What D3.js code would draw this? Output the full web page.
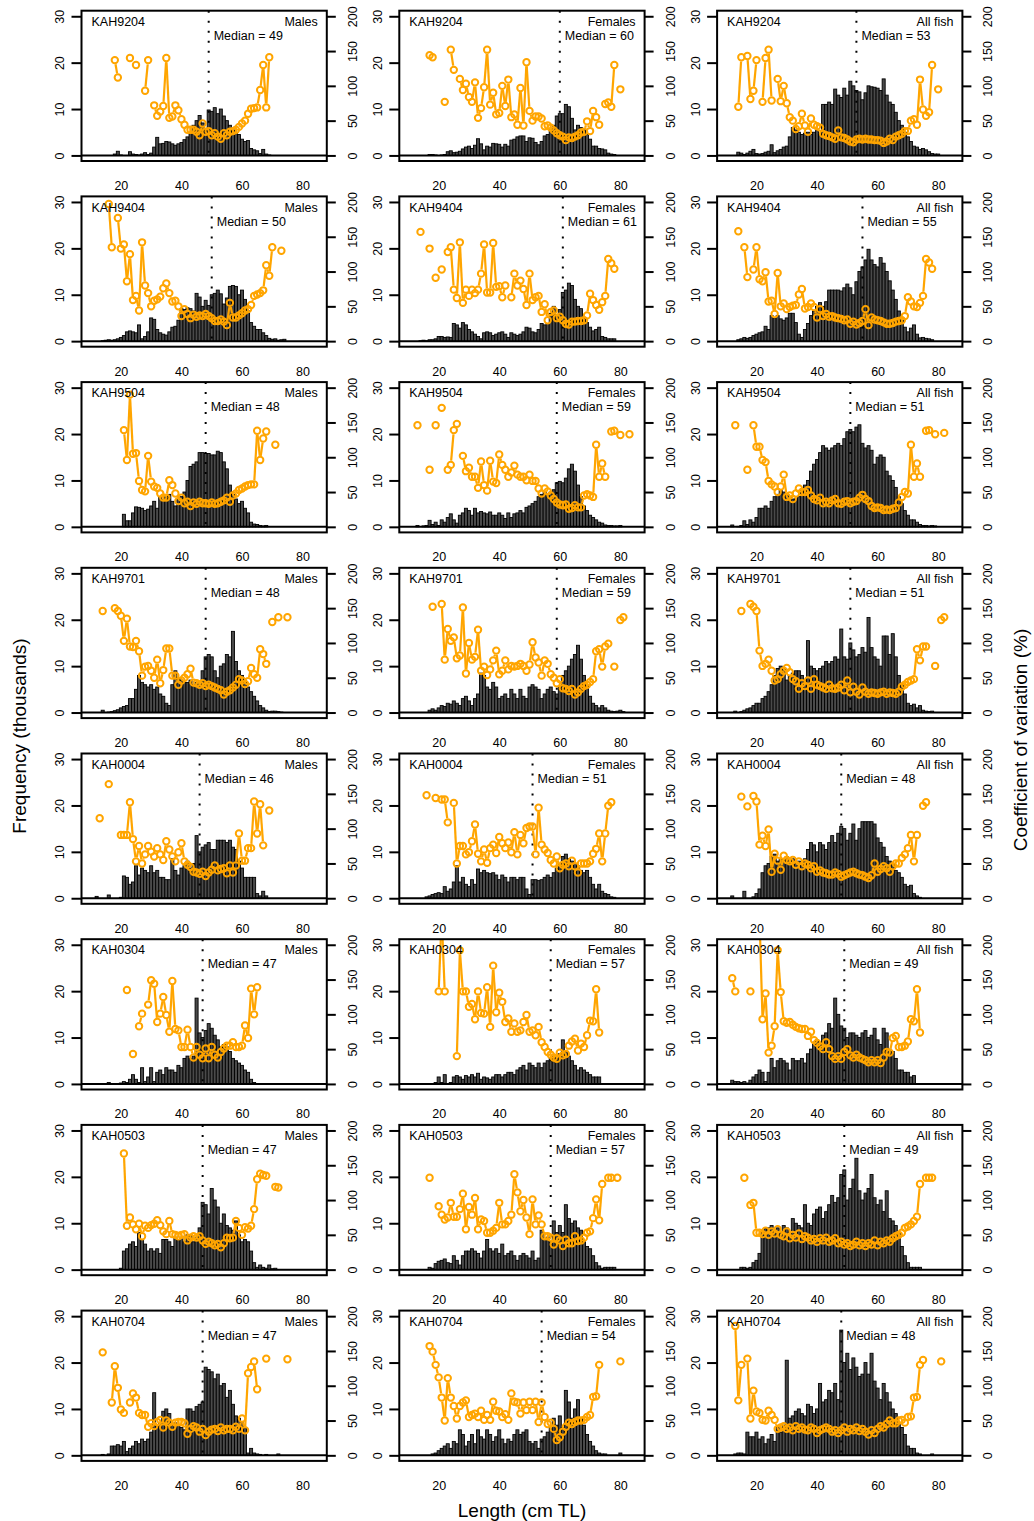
<!DOCTYPE html>
<html>
<head>
<meta charset="utf-8">
<script src="https://cdn.jsdelivr.net/npm/d3@7"></script>
<style>
body { margin: 0; background: #fff; }
text { font-family: "Liberation Sans", Arial, Helvetica, sans-serif; }
</style>
</head>
<body>
<div id="chart"></div>
<script>
var surveys = ["KAH9204", "KAH9404", "KAH9504", "KAH9701", "KAH0004", "KAH0304", "KAH0503", "KAH0704"];
var groups = ["Males", "Females", "All fish"];
var medians = [[49,60,53],[50,61,55],[48,59,51],[48,59,51],[46,51,48],[47,57,49],[47,57,49],[47,54,48]];

// first length class (cm) of each frequency / CV series
var freqFrom = [[18,17,14],[14,14,14],[21,13,12],[14,17,13],[12,16,12],[16,17,12],[20,17,15],[14,18,13]];
var cvFrom   = [[18,17,14],[16,14,14],[21,13,13],[14,18,15],[13,16,15],[22,20,12],[21,17,16],[14,17,13]];

// frequency (thousands) per 1 cm class
var freqKAH9204M = [0.3,0.9,0.1,0,0,0.8,0.3,0.2,0.1,0.3,0.6,0.2,0.5,1.8,3.9,2.5,2.6,3.0,2.9,2.5,2.2,2.5,2.8,3.4,4.0,5.0,6.5,7.5,8.6,7.0,5.5,9.8,9.5,10.3,9.0,10.0,8.5,7.5,6.5,5.5,5.0,4.5,3.5,3.0,3.2,1.5,1.2,1.0,0.4,1.3,0.3,0.1];
var freqKAH9204F = [0.2,0.2,0.1,0,0.1,0.2,0.8,1.0,0.6,0.7,0.9,1.4,1.8,2.0,1.5,2.2,3.6,2.5,1.2,2.0,1.8,2.6,2.5,2.4,1.8,2.4,2.0,3.3,3.5,4.0,4.2,4.2,3.0,3.8,3.7,2.8,2.3,3.0,4.2,4.5,5.5,6.5,8.5,9.0,9.0,11.0,10.5,8.0,5.5,6.5,6.0,5.5,4.5,3.5,2.0,2.0,1.5,1.4,1.2,0.5,0.3,0.2];
var freqKAH9204A = [0.7,0.5,0.2,0.5,0.9,1.3,0.4,0.3,0.4,0.7,0.9,2.3,0.6,1.0,1.3,1.8,2.0,4.0,6.0,5.5,5.0,4.5,4.8,5.0,4.5,5.0,5.5,4.5,11.0,11.0,11.5,11.0,14.3,13.0,12.5,14.5,13.0,16.0,15.0,14.0,13.7,12.0,13.5,15.0,14.8,14.7,14.5,14.0,16.5,13.0,11.5,11.0,9.3,7.5,6.5,5.0,4.0,3.0,2.0,1.8,1.3,1.5,1.2,0.8,0.4,0.3,0.3];
var freqKAH9404M = [0.1,0.2,0.3,0.2,0.3,0.5,0.8,1.2,2.0,2.2,2.0,1.8,3.5,0.5,1.0,2.0,5.0,4.7,2.5,1.8,1.5,1.3,2.0,3.0,3.2,4.5,7.0,6.8,7.2,7.0,6.5,10.3,9.5,7.5,8.8,7.7,10.0,10.3,11.0,10.2,8.0,9.3,11.8,12.0,11.8,10.0,11.0,9.0,6.5,4.0,3.2,2.5,2.5,1.8,1.2,0.6,0.4,0.5,0.2,0.3,0.4];
var freqKAH9404F = [0.1,0.2,0.1,0.3,0.3,0.5,1.0,1.0,0.8,0.9,0.8,3.8,3.5,2.8,4.0,3.5,2.5,2.0,1.5,1.0,0.5,1.8,2.0,1.8,1.2,1.5,1.8,2.0,1.5,0.8,1.8,1.5,1.2,1.5,2.0,3.0,2.8,2.0,1.8,2.5,3.8,3.5,3.8,6.0,7.5,5.5,6.8,10.5,11.0,12.5,12.0,9.0,7.5,7.0,5.0,4.0,3.0,2.2,2.5,3.0,1.0,0.8,0.5,0.5,0.5];
var freqKAH9404A = [0.3,0.5,0.8,0.6,0.8,1.2,1.5,1.8,2.0,3.2,2.5,5.5,5.0,5.5,4.8,4.5,5.0,6.0,6.0,4.0,1.5,0.8,2.5,3.8,5.5,6.5,7.5,8.3,7.5,8.5,11.0,11.0,11.0,11.0,10.8,11.5,12.3,11.5,10.0,12.8,15.0,16.0,17.5,19.8,17.5,16.5,16.0,18.0,16.8,15.0,13.0,11.0,9.0,6.5,4.5,3.0,2.0,2.8,3.5,1.5,0.7,0.8,0.6,0.5,0.3];
var freqKAH9504M = [2.7,1.3,1.3,3.0,4.3,4.2,4.0,3.5,3.8,4.5,5.5,4.0,6.5,5.8,6.5,7.0,5.5,4.5,6.0,6.5,7.5,10.0,13.0,13.5,14.0,16.0,16.0,15.8,15.8,15.5,15.5,16.3,16.0,14.0,12.5,9.0,7.0,6.0,5.0,5.5,4.0,3.0,1.0,0.6,0.5,0.3,0.2,0.3];
var freqKAH9504F = [0.3,0,0.2,0.3,1.4,0.5,1.0,0.3,1.5,1.0,2.0,2.8,1.5,0.8,2.5,3.0,4.0,3.5,2.5,4.0,3.0,3.3,3.0,2.8,3.2,2.5,2.5,3.0,2.5,1.8,3.0,2.0,2.8,3.0,3.5,3.0,4.2,4.5,5.0,5.5,6.5,7.0,7.5,7.0,7.5,8.0,9.5,9.8,9.5,10.5,12.5,13.5,12.0,9.0,6.5,4.5,3.5,2.5,2.0,1.5,1.0,0.8,0.4,0.3,0.3,0.2,0.2,0.3];
var freqKAH9504A = [0.4,0,0.1,0.3,1.3,0.5,1.5,1.0,2.0,4.0,4.0,4.5,4.0,5.5,6.5,7.0,8.0,7.5,7.0,6.5,6.0,6.0,6.5,8.0,9.0,10.0,12.0,13.5,14.5,16.0,17.5,17.0,16.5,17.0,17.5,18.0,17.5,19.0,20.5,21.0,20.5,21.5,22.0,18.0,17.0,17.5,16.5,13.5,15.0,15.5,15.0,12.0,11.0,10.0,8.5,6.5,5.0,3.5,2.5,1.5,1.5,1.0,0.5,0.3,0.3,0.2,0.3,0.2];
var freqKAH9701M = [0.5,0,0.1,0.2,0.4,0.6,1.0,1.3,1.5,3.0,3.0,5.0,8.0,6.5,6.0,5.5,6.0,5.0,5.5,4.0,3.5,2.0,1.5,6.0,9.0,7.5,7.0,6.5,6.5,7.0,6.0,6.5,6.0,9.0,12.0,12.5,12.0,9.0,7.5,10.0,10.5,12.5,12.0,17.5,11.0,9.0,8.0,7.0,5.5,4.5,3.5,2.5,1.5,1.0,0.5,0.2,0.3,0.3,0.2,0.1];
var freqKAH9701F = [0.5,0.8,0.5,1.0,1.5,1.3,2.0,1.8,2.5,2.0,1.5,3.0,3.5,2.5,1.5,3.0,4.0,8.5,8.0,5.5,5.0,6.5,5.5,3.0,3.5,4.0,3.0,5.0,4.0,3.0,5.0,3.5,3.0,5.5,6.0,5.5,5.0,3.0,4.0,5.0,5.5,4.5,4.0,5.5,8.0,9.0,10.0,11.5,12.5,14.5,11.5,8.0,6.0,3.5,2.0,1.5,1.0,1.5,1.0,0.5,0.3,0.2,0.3,0.5,0.2];
var freqKAH9701A = [0.3,0,0.2,0.5,0.8,1.0,1.5,2.0,2.0,3.0,3.5,4.5,6.0,8.0,9.5,10.0,9.5,7.0,8.0,8.5,9.0,9.0,8.0,7.0,15.5,10.0,9.5,9.0,9.5,10.0,11.0,10.5,11.0,12.0,11.5,18.0,12.0,11.5,15.0,13.5,12.0,12.5,14.0,13.0,20.5,14.0,12.0,11.5,10.0,16.5,16.5,12.5,17.0,12.0,8.0,6.0,4.0,2.0,1.5,1.8,1.0,1.5,0.5,0.3,0.2,0.3];
var freqKAH0004M = [0.4,0,0,0,0.7,0,0,0,0.2,4.8,4.5,3.0,3.5,7.0,5.0,6.5,6.0,5.5,7.0,5.5,6.0,4.5,4.5,4.0,4.0,8.5,6.0,5.0,6.5,7.0,8.0,6.5,7.5,13.5,10.0,11.0,11.5,12.0,10.5,10.5,12.5,12.5,12.5,12.0,12.5,11.0,10.5,8.0,6.5,4.5,4.5,4.5,4.5,1.0,0.5,1.5,0.5];
var freqKAH0004F = [0.3,0.5,0.8,1.0,1.2,1.0,2.5,1.5,2.0,3.5,7.0,3.5,4.5,3.0,2.5,4.0,3.0,6.3,5.5,6.0,5.5,5.3,5.5,5.0,4.0,5.0,4.5,3.5,4.5,4.5,4.0,4.5,4.5,2.0,0.8,4.0,4.0,3.8,4.0,4.5,5.0,4.5,5.5,6.5,7.5,9.0,9.5,8.5,8.0,7.5,7.0,6.0,5.5,6.0,4.5,3.0,2.0,3.0,1.5,1.0,0.8,0.3,0.2];
var freqKAH0004A = [0.5,0,0,0,1.5,0,0,0.3,1.0,2.0,5.5,7.0,7.5,9.0,9.5,8.0,8.5,8.5,9.0,8.0,8.5,7.5,8.0,7.5,8.5,10.5,12.0,11.5,10.0,12.0,11.5,10.5,12.0,13.5,12.0,14.0,15.5,15.0,12.5,14.0,16.0,12.5,15.0,16.5,16.5,16.5,16.5,16.0,13.0,12.0,11.0,9.0,8.0,7.5,6.0,5.5,4.5,3.0,2.5,2.8,1.0,0.5,0.2];
var freqKAH0304M = [0.3,0,0.1,0,0.2,0.5,0.3,1.0,2.0,1.0,0.3,3.5,0.5,1.5,3.5,0.5,2.5,3.0,2.0,3.5,3.0,3.0,2.5,4.0,3.5,5.5,6.0,5.5,6.0,18.5,11.0,10.0,11.5,13.0,12.0,10.5,9.5,8.0,8.5,8.0,7.0,5.5,5.0,4.5,4.0,3.0,2.5,1.0,0.3];
var freqKAH0304F = [0,0,0.3,1.5,0.3,2.0,0,0.3,1.5,1.8,1.5,1.0,1.8,1.5,2.0,1.5,2.3,1.0,1.5,1.3,1.0,1.5,2.0,2.0,1.5,2.0,2.5,2.5,2.0,3.0,3.5,4.0,3.0,4.5,4.0,3.5,4.5,3.5,4.5,5.0,5.5,6.0,5.5,6.5,9.5,7.0,6.0,5.0,4.0,3.0,3.5,3.0,2.5,2.0,1.5,1.5,1.5];
var freqKAH0304A = [0.8,0.5,0.5,0.3,0.5,0.2,0.8,1.5,2.0,3.0,2.5,0.5,2.5,5.5,3.5,5.0,5.5,5.0,4.5,3.0,5.5,5.0,5.0,5.5,4.5,6.5,7.5,9.0,9.5,8.5,10.5,11.0,13.0,12.0,18.5,15.0,12.5,12.0,10.0,11.0,11.0,10.5,10.0,11.0,11.5,10.0,10.5,12.0,9.5,8.5,12.0,11.0,7.5,7.0,5.5,3.0,3.0,2.5,2.5,1.5,1.8];
var freqKAH0503M = [0.3,4.0,4.5,5.5,6.0,5.0,8.0,6.5,5.5,4.0,4.5,4.0,4.5,3.5,6.5,6.5,6.0,5.0,7.0,6.5,7.0,6.0,7.5,7.5,6.0,7.0,9.0,14.5,14.0,12.0,17.5,15.0,13.5,10.0,12.0,9.5,9.0,8.5,10.5,7.5,6.0,6.5,6.0,4.0,1.5,0.5,1.0,0.5,0.3,1.0,0.2,0.3];
var freqKAH0503F = [0.5,0.3,1.3,1.8,2.0,2.3,1.5,1.3,3.0,2.0,1.0,3.0,4.0,4.0,4.5,4.0,3.5,2.5,4.0,6.5,4.5,4.0,4.5,3.5,5.5,3.0,3.5,4.0,3.0,2.0,3.0,3.5,3.0,2.5,4.0,2.0,2.5,8.5,6.5,7.0,6.0,10.5,8.0,9.5,8.0,14.0,11.0,10.0,10.5,9.0,8.5,6.0,5.0,4.5,3.0,1.5,0.8,0.3,0.5,0.5,0.5,0.5];
var freqKAH0503A = [0.5,0.5,0.3,0.5,1.5,2.0,3.5,8.0,9.0,9.0,9.5,8.5,9.0,8.0,9.5,9.0,8.0,11.0,10.0,9.5,9.0,14.0,10.0,9.5,12.0,13.0,13.5,11.0,12.5,14.0,16.0,14.5,15.5,20.5,21.5,15.0,17.5,19.5,24.0,17.0,15.0,16.5,17.5,20.5,15.5,14.0,15.0,12.5,17.0,11.0,10.5,9.5,8.0,5.0,3.0,1.5,0.5,0.5,0.5,0.5];
var freqKAH0704M = [0.2,0,0.3,2.0,2.0,2.3,2.0,3.0,0.8,1.5,2.0,3.0,2.5,3.5,3.0,3.5,5.0,13.5,6.5,7.0,9.5,10.0,9.0,6.5,7.0,6.5,6.0,5.5,10.0,10.0,9.5,10.5,11.0,11.5,19.0,18.5,18.0,16.5,17.5,15.0,15.5,12.5,14.0,11.0,8.5,8.0,7.0,6.0,0.5,1.5,0.5,0.3,0.2,0,0.2,0,0,0,0.3];
var freqKAH0704F = [0.3,0.5,1.0,1.5,2.0,2.5,1.5,3.0,2.5,5.5,4.5,2.0,3.0,4.5,2.5,5.5,4.0,3.5,5.5,4.5,3.0,4.0,5.5,3.5,2.5,3.5,3.0,4.5,5.5,4.5,5.0,5.5,3.0,2.5,3.0,1.5,3.5,4.0,5.0,6.0,8.0,6.5,8.5,6.0,14.0,11.5,8.0,10.0,12.0,8.0,6.5,4.5,3.0,2.0,1.0,0.5,0.3,0.3,0,0,0,0,0.5];
var freqKAH0704A = [0.3,0.5,0.5,0.3,5.0,4.0,4.0,5.0,3.5,4.0,2.5,3.5,4.5,3.0,6.0,5.0,6.5,20.5,8.0,8.5,9.5,10.0,9.0,8.5,11.0,10.5,9.0,10.0,15.5,11.5,12.0,14.0,13.5,15.5,12.0,27.0,20.0,22.0,18.5,21.0,19.0,17.0,17.5,20.0,17.5,22.0,16.0,14.5,12.0,15.5,13.5,11.5,10.0,9.0,7.0,6.0,4.5,2.0,1.5,1.5,0.5,0.3,0,0,0,0.3];

// coefficient of variation (%) per 1 cm class, null = not estimated
var cvKAH9204M = [137,112,null,null,null,140,null,130,null,null,93,137,null,72,57,63,71,140,54,56,72,65,52,44,37,37,37,34,29,46,34,35,29,32,27,24,32,29,34,35,37,41,46,50,60,67,68,69,94,130,69,141];
var cvKAH9204F = [144,141,null,null,null,77,null,152,123,null,110,94,103,84,77,105,54,68,98,152,73,90,59,61,100,71,109,55,59,44,97,43,134,64,50,56,56,53,42,43,40,36,32,29,27,22,26,25,27,29,33,34,49,35,64,55,44,null,74,76,70,130,null,95];
var cvKAH9204A = [70,141,null,143,81,93,137,null,77,140,152,79,null,110,78,100,75,55,50,38,42,60,43,34,53,44,42,40,31,29,28,26,24,36,26,25,23,20,19,23,24,23,24,23,23,22,22,21,18,20,24,22,27,29,31,35,35,50,52,44,109,66,57,62,130,null,95];
var cvKAH9404M = [197,135,null,177,133,139,86,125,59,65,44,142,80,69,50,58,60,64,76,83,69,57,58,50,36,46,39,33,38,35,37,36,39,36,33,29,29,31,28,23,55,34,34,37,40,44,46,52,65,67,69,73,109,94,135,null,null,130];
var cvKAH9404F = [157,null,null,133,null,91,null,103,null,128,135,74,62,142,55,74,65,74,69,74,97,139,70,70,141,78,79,63,80,null,63,97,80,87,75,52,97,59,63,65,42,53,30,42,44,33,35,30,25,24,28,28,29,29,30,37,68,59,52,45,56,65,118,112,104];
var cvKAH9404A = [158,null,135,92,null,103,135,89,86,99,57,58,39,98,50,54,46,49,51,52,67,75,47,49,54,49,34,46,36,39,35,36,34,33,32,30,31,25,28,24,26,29,46,23,34,31,30,29,27,25,25,26,28,29,30,36,63,57,50,49,55,65,118,113,104];
var cvKAH9504M = [139,96,190,105,106,66,53,51,102,65,58,56,48,42,42,67,60,48,37,42,34,36,30,35,33,36,34,34,33,35,33,34,36,38,42,36,45,48,53,55,58,60,61,61,138,96,127,137,null,null,118];
var cvKAH9504F = [146,null,null,null,82,null,146,null,171,null,82,89,139,148,null,102,80,85,72,72,56,94,60,52,95,65,63,104,89,82,72,78,88,75,72,72,67,75,66,66,55,48,55,51,45,40,35,32,31,32,26,27,31,28,28,45,47,45,43,118,72,91,72,null,137,138,null,132,null,null,133];
var cvKAH9504A = [146,null,null,null,82,null,146,115,115,96,93,66,61,58,50,58,75,43,45,40,48,55,50,50,53,45,40,38,42,34,36,34,38,40,34,33,36,37,34,36,37,42,46,40,37,30,27,28,27,24,25,24,26,27,35,43,50,48,118,72,91,72,null,138,139,null,133,null,null,135];
var cvKAH9701M = [146,null,null,null,150,146,139,103,135,95,94,103,88,53,66,67,60,50,76,42,61,92,92,53,53,40,46,50,55,63,43,42,40,42,38,40,38,36,34,32,26,30,32,36,40,48,46,41,45,64,55,50,91,84,70,null,130,null,137,null,null,137];
var cvKAH9701F = [152,null,null,156,76,120,103,108,78,82,151,56,100,76,80,119,60,66,54,62,75,89,55,60,75,62,67,66,67,70,67,60,69,101,79,72,53,75,70,55,50,42,48,35,34,31,34,26,29,34,38,40,44,48,88,91,66,95,99,null,66,null,133,137];
var cvKAH9701A = [146,null,null,156,152,146,89,67,70,76,60,46,48,55,60,64,58,48,45,34,42,38,46,34,48,40,38,36,34,40,35,34,36,40,32,46,29,37,30,26,36,30,27,29,28,27,29,30,27,29,28,27,30,37,40,44,46,48,91,75,95,95,null,null,67,null,133,137];
var cvKAH0004M = [115,null,null,164,null,null,null,91,91,91,138,85,53,75,50,63,75,67,60,72,63,55,82,70,60,53,66,79,53,48,45,38,37,35,38,32,37,41,47,40,42,43,36,47,37,47,93,54,54,72,72,139,93,135,76,null,126];
var cvKAH0004F = [148,null,null,144,null,142,142,109,null,137,50,75,75,63,66,82,106,64,53,70,51,72,77,65,88,79,72,80,66,95,63,91,79,101,103,103,63,130,77,70,65,55,50,60,43,48,50,46,54,46,37,50,50,50,53,64,71,93,53,93,133,138];
var cvKAH0004A = [146,null,132,null,147,139,77,90,75,99,38,64,54,41,61,55,53,55,48,53,46,50,48,43,46,38,40,37,36,34,34,37,35,31,33,35,37,38,36,34,33,31,29,33,50,38,42,46,43,38,46,50,50,58,63,72,91,53,91,null,133,138];
var cvKAH0304M = [135,null,43,null,83,101,null,114,149,144,89,101,125,99,75,148,79,77,53,53,78,53,38,53,42,37,51,37,53,42,38,46,51,55,55,60,53,53,55,84,66,137,100,139];
var cvKAH0304F = [133,240,133,null,null,null,40,192,133,133,111,115,93,133,102,101,139,82,170,103,131,118,89,94,75,87,75,77,89,99,75,77,70,82,60,53,46,42,38,36,45,41,43,55,61,65,48,58,53,70,91,90,136,74];
var cvKAH0304A = [152,133,null,null,null,null,133,null,null,240,93,130,45,55,83,192,132,90,88,89,85,82,80,79,79,69,75,63,59,54,50,60,50,40,36,40,36,46,50,41,38,42,38,36,34,31,34,31,34,30,38,46,45,66,69,53,53,55,61,93,90,136,74];
var cvKAH0503M = [167,63,75,65,58,66,48,63,60,64,66,71,64,55,51,70,51,50,48,50,51,42,46,48,46,48,42,37,40,38,35,37,32,38,46,45,46,70,60,50,61,59,63,87,130,138,136,135,null,null,119,118];
var cvKAH0503F = [132,null,null,91,79,72,75,96,76,76,87,109,58,90,79,103,58,72,70,53,53,56,60,96,65,65,70,79,137,111,84,100,75,51,101,65,78,65,48,48,46,36,45,42,34,43,38,38,48,41,42,46,53,55,74,101,71,123,null,132,132,null,132];
var cvKAH0503A = [132,null,93,96,53,53,51,56,50,55,52,58,50,48,55,45,50,46,52,44,48,46,42,44,40,45,42,46,40,42,45,38,40,36,38,34,36,40,35,38,34,38,36,42,35,40,38,42,40,45,48,50,53,60,62,65,70,76,123,null,132,132,132];
var cvKAH0704M = [148,null,null,76,128,97,66,61,null,76,89,83,61,58,58,41,46,42,48,51,40,50,47,41,47,48,48,46,31,38,42,40,34,38,29,34,37,38,35,40,36,38,38,36,41,38,53,36,118,127,135,95,null,null,139,null,null,null,null,null,null,138];
var cvKAH0704F = [157,149,130,112,83,50,111,83,71,53,71,76,79,55,58,60,55,64,51,58,51,77,64,63,55,59,51,89,77,76,60,76,65,77,65,77,48,76,55,45,47,38,22,26,34,41,47,45,48,50,50,51,55,58,84,85,130,null,null,null,null,null,null,135];
var cvKAH0704A = [186,79,130,null,139,53,93,63,61,51,50,64,58,51,38,40,42,38,40,36,42,38,40,37,36,40,38,32,36,38,40,38,34,36,32,36,40,34,38,36,40,35,38,34,30,36,32,38,42,40,45,50,46,46,50,51,47,55,56,83,84,130,137,null,null,null,null,null,135];

var freqTable = [
  [freqKAH9204M, freqKAH9204F, freqKAH9204A],
  [freqKAH9404M, freqKAH9404F, freqKAH9404A],
  [freqKAH9504M, freqKAH9504F, freqKAH9504A],
  [freqKAH9701M, freqKAH9701F, freqKAH9701A],
  [freqKAH0004M, freqKAH0004F, freqKAH0004A],
  [freqKAH0304M, freqKAH0304F, freqKAH0304A],
  [freqKAH0503M, freqKAH0503F, freqKAH0503A],
  [freqKAH0704M, freqKAH0704F, freqKAH0704A]
];
var cvTable = [
  [cvKAH9204M, cvKAH9204F, cvKAH9204A],
  [cvKAH9404M, cvKAH9404F, cvKAH9404A],
  [cvKAH9504M, cvKAH9504F, cvKAH9504A],
  [cvKAH9701M, cvKAH9701F, cvKAH9701A],
  [cvKAH0004M, cvKAH0004F, cvKAH0004A],
  [cvKAH0304M, cvKAH0304F, cvKAH0304A],
  [cvKAH0503M, cvKAH0503F, cvKAH0503A],
  [cvKAH0704M, cvKAH0704F, cvKAH0704A]
];

var W = 1034, H = 1521;
var colLeft = [81.5, 399.3, 717.1];
var pw = 245.3, ph = 150.3;
var top0 = 10.7, rowStep = 185.7;
var orange = "#ffa500";

var svg = d3.select("#chart").append("svg")
  .attr("width", W)
  .attr("height", H);

var x = d3.scaleLinear().domain([7, 88]).range([0, pw]);
var yF = d3.scaleLinear().domain([-1.2, 31.2]).range([ph, 0]);
var yC = d3.scaleLinear().domain([-8, 208]).range([ph, 0]);

surveys.forEach(function(survey, r) {
  groups.forEach(function(grp, c) {
    var g = svg.append("g")
      .attr("transform", "translate(" + colLeft[c] + "," + (top0 + r * rowStep) + ")");

    var clipId = "clip" + r + "_" + c;
    g.append("clipPath").attr("id", clipId)
      .append("rect").attr("width", pw).attr("height", ph);
    var plot = g.append("g").attr("clip-path", "url(#" + clipId + ")");

    // histogram
    var f0 = freqFrom[r][c];
    var bars = freqTable[r][c].map(function(v, i) { return { len: f0 + i, v: v }; })
      .filter(function(d) { return d.v > 0; });
    plot.selectAll("rect.bar")
      .data(bars)
      .enter()
      .append("rect")
      .attr("class", "bar")
      .attr("x", function(d) { return x(d.len - 0.5); })
      .attr("width", x(1) - x(0))
      .attr("y", function(d) { return yF(d.v); })
      .attr("height", function(d) { return yF(0) - yF(d.v); })
      .attr("fill", "#4a4a4a")
      .attr("stroke", "#000")
      .attr("stroke-width", 0.9);

    // median
    var med = medians[r][c];
    plot.append("line")
      .attr("x1", x(med)).attr("x2", x(med))
      .attr("y1", 0).attr("y2", yF(0))
      .attr("stroke", "#000")
      .attr("stroke-width", 2)
      .attr("stroke-dasharray", "2,8");

    // zero line
    plot.append("line")
      .attr("x1", 0).attr("x2", pw)
      .attr("y1", yF(0)).attr("y2", yF(0))
      .attr("stroke", "#000")
      .attr("stroke-width", 2);

    // CV: points joined by lines that stop short of the points
    var c0 = cvFrom[r][c];
    var pts = cvTable[r][c].map(function(v, i) { return { len: c0 + i, v: v }; });
    var gap = 4.2;
    for (var i = 1; i < pts.length; i++) {
      var a = pts[i - 1], b = pts[i];
      if (a.v == null || b.v == null) continue;
      var ax = x(a.len), ay = yC(a.v), bx = x(b.len), by = yC(b.v);
      var dx = bx - ax, dy = by - ay, dist = Math.sqrt(dx * dx + dy * dy);
      if (dist <= 2 * gap) continue;
      var k = gap / dist;
      plot.append("line")
        .attr("x1", ax + dx * k).attr("y1", ay + dy * k)
        .attr("x2", bx - dx * k).attr("y2", by - dy * k)
        .attr("stroke", orange)
        .attr("stroke-width", 2.2);
    }
    plot.selectAll("circle.cv")
      .data(pts.filter(function(d) { return d.v != null; }))
      .enter()
      .append("circle")
      .attr("class", "cv")
      .attr("cx", function(d) { return x(d.len); })
      .attr("cy", function(d) { return yC(d.v); })
      .attr("r", 3.2)
      .attr("fill", "none")
      .attr("stroke", orange)
      .attr("stroke-width", 2);

    // box
    g.append("rect")
      .attr("width", pw).attr("height", ph)
      .attr("fill", "none")
      .attr("stroke", "#000")
      .attr("stroke-width", 2);

    // axes
    var yAxisL = g.append("g")
      .call(d3.axisLeft(yF).tickValues([0, 10, 20, 30]).tickSize(10).tickFormat(d3.format("d")));
    var yAxisR = g.append("g")
      .attr("transform", "translate(" + pw + ",0)")
      .call(d3.axisRight(yC).tickValues([0, 50, 100, 150, 200]).tickSize(9).tickFormat(d3.format("d")));
    var xAxis = g.append("g")
      .attr("transform", "translate(0," + ph + ")")
      .call(d3.axisBottom(x).tickValues([20, 40, 60, 80]).tickSize(0));

    [yAxisL, yAxisR, xAxis].forEach(function(ax) {
      ax.select(".domain").remove();
      ax.attr("font-size", null).attr("font-family", null);
      ax.selectAll(".tick line").attr("stroke-width", 2);
      ax.selectAll(".tick text").attr("font-size", "12.5px").attr("fill", "#000");
    });
    yAxisL.selectAll(".tick text")
      .attr("transform", "rotate(-90)")
      .attr("text-anchor", "middle")
      .attr("x", 0).attr("y", -21.7).attr("dy", "0.35em");
    yAxisR.selectAll(".tick text")
      .attr("transform", "rotate(-90)")
      .attr("text-anchor", "middle")
      .attr("x", 0).attr("y", 25.7).attr("dy", "0.35em");
    xAxis.selectAll(".tick text")
      .attr("y", 24.5).attr("dy", "0.35em");

    // labels
    g.append("text")
      .attr("x", 10).attr("y", 15.3)
      .attr("font-size", "12.5px")
      .text(survey);
    g.append("text")
      .attr("x", pw - 9).attr("y", 15.3)
      .attr("text-anchor", "end")
      .attr("font-size", "12.5px")
      .text(grp);
    g.append("text")
      .attr("x", x(med) + 5).attr("y", 29.2)
      .attr("font-size", "12.5px")
      .text("Median = " + med);
  });
});

svg.append("text")
  .attr("transform", "translate(19,736)rotate(-90)")
  .attr("text-anchor", "middle")
  .attr("dy", "0.35em")
  .attr("font-size", "19px")
  .text("Frequency (thousands)");
svg.append("text")
  .attr("transform", "translate(1020,740)rotate(-90)")
  .attr("text-anchor", "middle")
  .attr("dy", "0.35em")
  .attr("font-size", "19px")
  .text("Coefficient of variation (%)");
svg.append("text")
  .attr("x", 522).attr("y", 1510)
  .attr("text-anchor", "middle")
  .attr("dy", "0.35em")
  .attr("font-size", "19px")
  .text("Length (cm TL)");
</script>
</body>
</html>
